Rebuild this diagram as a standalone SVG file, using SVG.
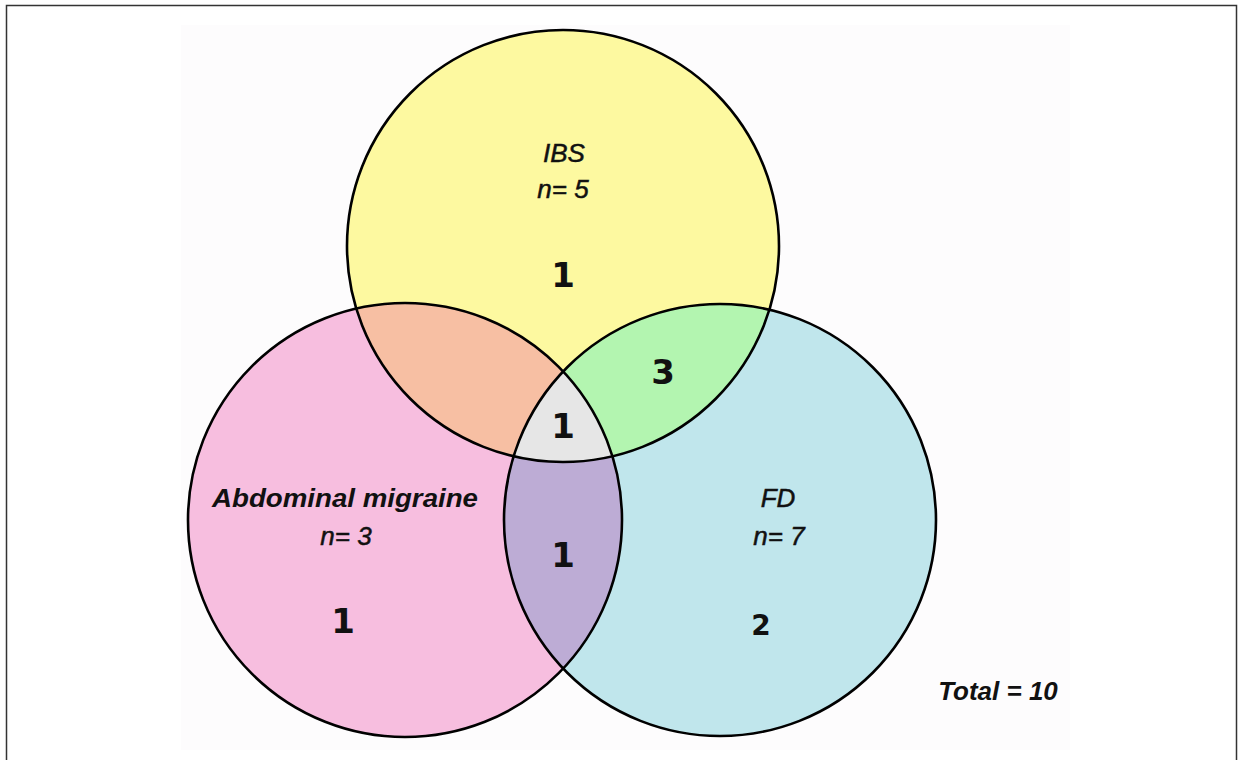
<svg xmlns="http://www.w3.org/2000/svg" width="1242" height="760" viewBox="0 0 1242 760">
  <style>
    .outline { fill: none; stroke: #000; stroke-width: 2.6; }
    .lbl { font-family: "Liberation Sans", Arial, sans-serif; font-style: italic; font-size: 26px; fill: #111; stroke: #111; stroke-width: 0.5; text-anchor: middle; }
    .lblb { font-family: "Liberation Sans", Arial, sans-serif; font-style: italic; font-weight: bold; font-size: 26px; fill: #111; text-anchor: middle; }
    .num { font-family: "DejaVu Sans", "Liberation Sans", sans-serif; font-weight: bold; font-size: 34px; fill: #111; text-anchor: middle; }
  </style>
  <defs>
    <clipPath id="clipY"><circle cx="563" cy="246" r="216"/></clipPath>
    <clipPath id="clipP"><circle cx="405" cy="520" r="217"/></clipPath>
    <clipPath id="clipB"><circle cx="720" cy="520" r="216"/></clipPath>
  </defs>
  <rect x="0" y="0" width="1242" height="760" fill="#ffffff"/>
  <rect x="181" y="25" width="889" height="725" fill="#fdfcfd"/>
  <rect x="6.5" y="5.5" width="1230" height="770" fill="none" stroke="#333" stroke-width="1.5"/>

  <g id="set-ibs">
    <circle cx="563" cy="246" r="216" fill="#fdf9a0"/>
  </g>
  <g id="set-abdominal-migraine">
    <circle cx="405" cy="520" r="217" fill="#f7bedf"/>
  </g>
  <g id="set-fd">
    <circle cx="720" cy="520" r="216" fill="#c0e6ec"/>
  </g>
  <g id="overlaps">
    <g clip-path="url(#clipY)"><circle cx="405" cy="520" r="217" fill="#f7bfa3"/></g>
    <g clip-path="url(#clipY)"><circle cx="720" cy="520" r="216" fill="#b3f5b0"/></g>
    <g clip-path="url(#clipP)"><circle cx="720" cy="520" r="216" fill="#bdacd5"/></g>
    <g clip-path="url(#clipY)"><g clip-path="url(#clipP)"><circle cx="720" cy="520" r="216" fill="#e6e6e6"/></g></g>
  </g>
  <g id="outlines">
    <circle class="outline" cx="563" cy="246" r="216"/>
    <circle class="outline" cx="405" cy="520" r="217"/>
    <circle class="outline" cx="720" cy="520" r="216"/>
  </g>

  <g id="labels">
    <text class="lbl" x="564" y="162">IBS</text>
    <text class="lbl" x="563" y="198">n= 5</text>
    <text class="num" x="563" y="287">1</text>

    <text class="lblb" x="345" y="507" textLength="266" lengthAdjust="spacingAndGlyphs">Abdominal migraine</text>
    <text class="lbl" x="346" y="545">n= 3</text>
    <text class="num" x="343" y="633">1</text>

    <text class="lbl" x="778" y="507">FD</text>
    <text class="lbl" x="779" y="545">n= 7</text>
    <text class="num" x="761" y="635" style="font-size:28px">2</text>

    <text class="num" x="663" y="384">3</text>
    <text class="num" x="563" y="438">1</text>
    <text class="num" x="563" y="567">1</text>

    <text class="lblb" x="998" y="700">Total = 10</text>
  </g>
</svg>
